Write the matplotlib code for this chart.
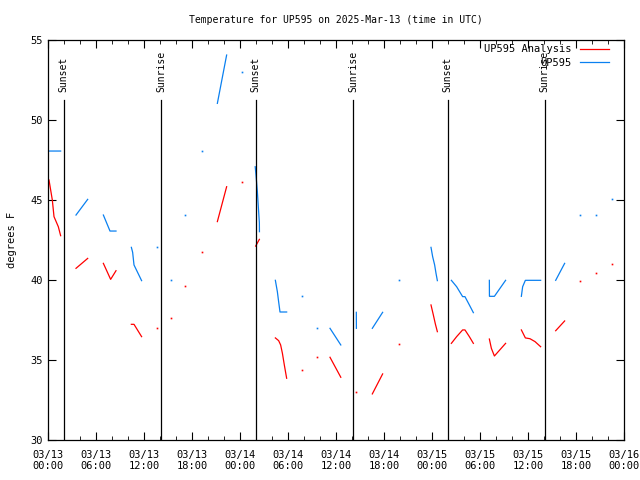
import numpy as np
import pandas as pd
import matplotlib
matplotlib.use("Agg")
import matplotlib.pyplot as plt
import matplotlib.dates as mdates

nan = np.nan

# hours after 2025-03-13 00:00 UTC, nan = gap in the data
analysis_hours = [0.125, 0.54, 0.75, 1.29, 1.58, nan,
                  3.5, 4.96, nan,
                  6.92, 7.83, 8.5, nan,
                  10.42, 10.75, 11.7, nan,
                  13.67, nan, 15.42, nan, 17.17, nan, 19.2, nan,
                  21.17, 22.33, nan,
                  24.3, nan,
                  25.96, 26.42, nan,
                  28.42, 28.83, 29.08, 29.3, 29.54, 29.83, nan,
                  31.7, nan, 33.67, nan,
                  35.25, 36.6, nan,
                  38.54, nan,
                  40.54, 41.83, nan,
                  43.92, nan,
                  47.875, 48.17, 48.42, 48.67, nan,
                  50.42, 51.08, 51.83, 52.12, 52.67, 53.17, nan,
                  55.17, 55.42, 55.8, 57.2, nan,
                  59.17, 59.67, 60.25, 60.875, 61.58, nan,
                  63.46, 64.58, nan,
                  66.54, nan, 68.54, nan, 70.54]
analysis_temp = [46.25, 45.0, 43.96, 43.33, 42.77, nan,
                 40.73, 41.35, nan,
                 41.04, 40.04, 40.58, nan,
                 37.23, 37.23, 36.46, nan,
                 36.98, nan, 37.6, nan, 39.6, nan, 41.73, nan,
                 43.65, 45.83, nan,
                 46.1, nan,
                 42.12, 42.54, nan,
                 36.38, 36.21, 35.94, 35.42, 34.69, 33.86, nan,
                 34.36, nan, 35.17, nan,
                 35.17, 33.92, nan,
                 33.02, nan,
                 32.88, 34.13, nan,
                 35.98, nan,
                 38.44, 37.81, 37.25, 36.77, nan,
                 36.04, 36.46, 36.88, 36.88, 36.46, 36.04, nan,
                 36.31, 35.73, 35.25, 36.04, nan,
                 36.88, 36.38, 36.33, 36.15, 35.83, nan,
                 36.83, 37.44, nan,
                 39.92, nan, 40.42, nan, 40.98]

obs_hours = [0.125, 1.58, nan,
             3.5, 4.96, nan,
             6.92, 7.75, 8.5, nan,
             10.42, 10.58, 10.75, 11.7, nan,
             13.67, nan, 15.42, nan, 17.1, nan, 19.2, nan,
             21.17, 22.33, nan,
             24.3, nan,
             25.9, 26.0, 26.17, 26.29, 26.42, 26.43, nan,
             28.42, 28.67, 28.83, 29.0, 29.83, nan,
             31.7, nan, 33.67, nan,
             35.25, 36.6, nan,
             38.54, 38.55, nan,
             40.54, 41.83, nan,
             43.92, nan,
             47.875, 48.08, 48.33, 48.5, 48.67, nan,
             50.42, 51.08, 51.83, 52.12, 52.67, 53.17, nan,
             55.17, 55.18, 55.8, 57.2, nan,
             59.17, 59.33, 59.67, 61.58, nan,
             63.46, 64.58, nan,
             66.54, nan, 68.54, nan, 70.54]
obs_temp = [48.06, 48.06, nan,
            44.06, 45.04, nan,
            44.06, 43.06, 43.06, nan,
            42.04, 41.73, 40.94, 39.96, nan,
            42.04, nan, 39.98, nan, 44.06, nan, 48.06, nan,
            51.04, 54.06, nan,
            53.02, nan,
            47.08, 46.56, 45.52, 44.58, 43.58, 43.02, nan,
            39.98, 39.27, 38.64, 38.0, 38.0, nan,
            38.98, nan, 36.98, nan,
            36.98, 35.94, nan,
            37.98, 36.98, nan,
            36.98, 37.98, nan,
            39.98, nan,
            42.04, 41.46, 40.94, 40.42, 39.96, nan,
            39.98, 39.58, 38.96, 38.96, 38.44, 37.96, nan,
            39.98, 38.98, 38.98, 39.98, nan,
            38.98, 39.58, 39.98, 39.98, nan,
            39.98, 41.04, nan,
            44.04, nan, 44.04, nan, 45.04]

sun_hours = [1.95, 14.15, 25.95, 38.15, 49.95, 62.1]
sun_labels = ["Sunset", "Sunrise", "Sunset", "Sunrise", "Sunset", "Sunrise"]

start = pd.Timestamp("2025-03-13 00:00")
base = mdates.date2num(start.to_pydatetime())


def to_dates(hours):
    return base + np.array(hours, dtype=float) / 24.0


def draw_series(ax, hours, temps, color, label):
    x = to_dates(hours)
    y = np.array(temps, dtype=float)
    ax.plot(x, y, color=color, lw=0.9, label=label)
    # single points between gaps show as dots
    for i in range(len(y)):
        if np.isnan(y[i]):
            continue
        prev_gap = i == 0 or np.isnan(y[i - 1])
        next_gap = i == len(y) - 1 or np.isnan(y[i + 1])
        if prev_gap and next_gap:
            ax.plot(x[i], y[i], marker="s", ms=1.2, mew=0, color=color, ls="none")


plt.rcParams["font.family"] = "DejaVu Sans Mono"
plt.rcParams["font.size"] = 7

fig = plt.figure(figsize=(6.4, 4.8), dpi=100)
ax = fig.add_axes([48 / 640, 40 / 480, 576 / 640, 400 / 480])

draw_series(ax, analysis_hours, analysis_temp, "#ff0000", "UP595 Analysis")
draw_series(ax, obs_hours, obs_temp, "#0a80f0", "UP595")

for h, lab in zip(sun_hours, sun_labels):
    xd = to_dates([h])[0]
    ax.plot([xd, xd], [30, 51.25], color="black", lw=0.9)
    ax.text(xd, 51.75, lab, rotation=90, ha="center", va="bottom", fontsize=7)

ax.set_xlim(base, base + 3)
ax.set_ylim(30, 55)
ax.set_yticks(np.arange(30, 56, 5))
ax.xaxis.set_major_locator(mdates.HourLocator(byhour=range(0, 24, 6)))
ax.xaxis.set_minor_locator(mdates.HourLocator(byhour=range(0, 24, 2)))
ax.xaxis.set_major_formatter(mdates.DateFormatter("%m/%d\n%H:%M"))
ax.tick_params(which="both", direction="in", top=True, right=True, labelsize=7.5)
ax.tick_params(which="major", length=6)
ax.tick_params(which="minor", length=3)
ax.tick_params(axis="x", pad=7)
for s in ax.spines.values():
    s.set_linewidth(0.9)

ax.set_ylabel("degrees F", fontsize=7.5, labelpad=10)
fig.text(336 / 640, 1 - 20 / 480, "Temperature for UP595 on 2025-Mar-13 (time in UTC)",
         ha="center", va="center", fontsize=7)

ax.legend(loc="upper right", bbox_to_anchor=(1.0 - 7 / 576, 1.0 + 4 / 400), frameon=False,
          markerfirst=False, handlelength=2.8, handletextpad=0.8, labelspacing=0.35,
          borderaxespad=0.4, fontsize=7.5)

fig.savefig("out.png", dpi=100)
